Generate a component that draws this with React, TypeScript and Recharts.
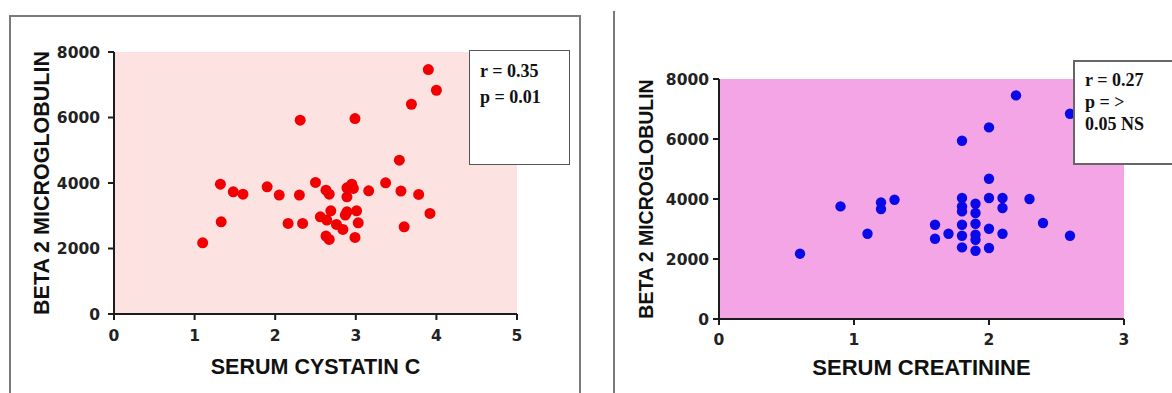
import React from 'react';
import { ScatterChart, Scatter, XAxis, YAxis, CartesianGrid, Label } from 'recharts';

// Left panel: serum cystatin C vs beta 2 microglobulin
const cystatinC = [
  1.10, 1.32, 1.33, 1.48, 1.60, 1.90, 2.05, 2.16, 2.30, 2.31, 2.34, 2.50, 2.56, 2.63,
  2.67, 2.64, 2.69, 2.63, 2.67, 2.76, 2.84, 2.89, 2.89, 2.89, 2.95, 2.97, 2.99, 3.01,
  3.03, 2.99, 2.87, 3.16, 3.37, 3.54, 3.56, 3.60, 3.69, 3.78, 3.90, 3.92, 4.00,
];
const b2mCystatin = [
  2175, 3965, 2815, 3730, 3660, 3883, 3630, 2766, 3630, 5917, 2766, 4017, 2968, 3782,
  3660, 2867, 3151, 2379, 2278, 2736, 2583, 3578, 3852, 3120, 3965, 3834, 5969, 3151,
  2785, 2339, 3020, 3761, 4005, 4697, 3752, 2663, 6405, 3651, 7463, 3071, 6832,
];

// Right panel: serum creatinine vs beta 2 microglobulin
const creatinine = [
  0.6, 0.9, 1.1, 1.2, 1.2, 1.3, 1.6, 1.6, 1.7, 1.8, 1.8, 1.8, 1.8, 1.8, 1.8, 1.8,
  1.9, 1.9, 1.9, 1.9, 1.9, 1.9, 2.0, 2.0, 2.0, 2.0, 2.0, 2.1, 2.1, 2.1, 2.2, 2.3,
  2.4, 2.6, 2.6,
];
const b2mCreatinine = [
  2177, 3753, 2843, 3886, 3666, 3976, 3143, 2676, 2843, 4033, 3753, 3586, 3143, 2776, 2386, 5943,
  3843, 3533, 3176, 2810, 2643, 2276, 4676, 6386, 4033, 3010, 2366, 4033, 3700, 2843, 7453, 4000,
  3200, 6843, 2776,
];

const cystatinTicks = [0, 1, 2, 3, 4, 5];
const creatinineTicks = [0, 1, 2, 3];
const b2mTicks = [0, 2000, 4000, 6000, 8000];

const leftTitleX = 'SERUM CYSTATIN C';
const rightTitleX = 'SERUM CREATININE';
const titleY = 'BETA 2 MICROGLOBULIN';
const leftStats = ['r = 0.35', 'p = 0.01'];
const rightStats = ['r = 0.27', 'p = >', '0.05 NS'];

const leftData = cystatinC.map((x, i) => ({ x, y: b2mCystatin[i] }));
const rightData = creatinine.map((x, i) => ({ x, y: b2mCreatinine[i] }));

const axisStroke = { stroke: '#1c1c1c', strokeWidth: 2 };
const tickStyle = { fill: '#222', fontSize: 15.5, fontFamily: 'DejaVu Sans', fontWeight: 'bold' };
const titleFont = { fontFamily: 'Liberation Sans, Arial', fontWeight: 'bold' as const };

const redDot = (p: any) => <circle cx={p.cx} cy={p.cy} r={5.5} fill="#f00000" />;
const blueDot = (p: any) => <circle cx={p.cx} cy={p.cy} r={5.2} fill="#0a0ae6" />;

export default function App() {
  return (
    <div style={{ position: 'absolute', left: 0, top: 0, width: 1172, height: 393, overflow: 'hidden', background: '#fff' }}>
      {/* panel frames */}
      <div style={{ position: 'absolute', left: 9, top: 15, width: 572, height: 400, boxSizing: 'border-box', borderLeft: '2px solid #7a7a7a', borderTop: '2px solid #7a7a7a', borderRight: '2px solid #7a7a7a' }} />
      <div style={{ position: 'absolute', left: 613, top: 11, width: 2, height: 382, background: '#7a7a7a' }} />

      <div style={{ position: 'absolute', left: 0, top: 0 }}>
        <ScatterChart width={590} height={393} margin={{ top: 52, right: 73, bottom: 39, left: 0 }}>
          <CartesianGrid fill="#fde2e2" fillOpacity={1} stroke="none" horizontal={false} vertical={false} />
          <XAxis type="number" dataKey="x" domain={[0, 5]} ticks={cystatinTicks} interval={0} height={40}
            tickSize={6} tickMargin={10} axisLine={axisStroke} tickLine={axisStroke} tick={tickStyle}>
            <Label value={leftTitleX} position="bottom" offset={5} fill="#111" style={{ ...titleFont, fontSize: 21.5 }} />
          </XAxis>
          <YAxis type="number" dataKey="y" domain={[0, 8000]} ticks={b2mTicks} interval={0} width={114}
            tickSize={6} tickMargin={8} axisLine={axisStroke} tickLine={axisStroke} tick={tickStyle}>
            <Label value={titleY} angle={-90} position="insideLeft" offset={41} fill="#111"
              style={{ ...titleFont, fontSize: 21.5, textAnchor: 'middle' }} />
          </YAxis>
          <Scatter data={leftData} fill="#f00000" shape={redDot} isAnimationActive={false} />
        </ScatterChart>
      </div>

      <div style={{ position: 'absolute', left: 590, top: 0 }}>
        <ScatterChart width={582} height={393} margin={{ top: 79, right: 48, bottom: 34, left: 0 }}>
          <CartesianGrid fill="#f4a5e6" fillOpacity={1} stroke="none" horizontal={false} vertical={false} />
          <XAxis type="number" dataKey="x" domain={[0, 3]} ticks={creatinineTicks} interval={0} height={40}
            tickSize={6} tickMargin={9} axisLine={axisStroke} tickLine={axisStroke} tick={tickStyle}>
            <Label value={rightTitleX} position="bottom" offset={0} fill="#111" style={{ ...titleFont, fontSize: 22 }} />
          </XAxis>
          <YAxis type="number" dataKey="y" domain={[0, 8000]} ticks={b2mTicks} interval={0} width={129}
            tickSize={6} tickMargin={4} axisLine={axisStroke} tickLine={axisStroke} tick={tickStyle}>
            <Label value={titleY} angle={-90} position="insideLeft" offset={56} fill="#111"
              style={{ ...titleFont, fontSize: 19.5, textAnchor: 'middle' }} />
          </YAxis>
          <Scatter data={rightData} fill="#0a0ae6" shape={blueDot} isAnimationActive={false} />
        </ScatterChart>
      </div>

      {/* statistics boxes */}
      <div style={{ position: 'absolute', left: 469, top: 50, width: 101, height: 115, boxSizing: 'border-box', border: '1.5px solid #555', background: '#fff' }} />
      <div style={{ position: 'absolute', left: 480, top: 57.5, fontFamily: 'Liberation Serif, Times New Roman', fontWeight: 'bold', fontSize: 18, lineHeight: '26px', color: '#111', whiteSpace: 'pre' }}>
        {leftStats.map((s) => <div key={s}>{s}</div>)}
      </div>

      <div style={{ position: 'absolute', left: 1073, top: 60, width: 110, height: 105, boxSizing: 'border-box', border: '2px solid #666', background: '#fff' }} />
      <div style={{ position: 'absolute', left: 1085, top: 69, fontFamily: 'Liberation Serif, Times New Roman', fontWeight: 'bold', fontSize: 18, lineHeight: '22px', color: '#111', whiteSpace: 'pre' }}>
        {rightStats.map((s) => <div key={s}>{s}</div>)}
      </div>
    </div>
  );
}
